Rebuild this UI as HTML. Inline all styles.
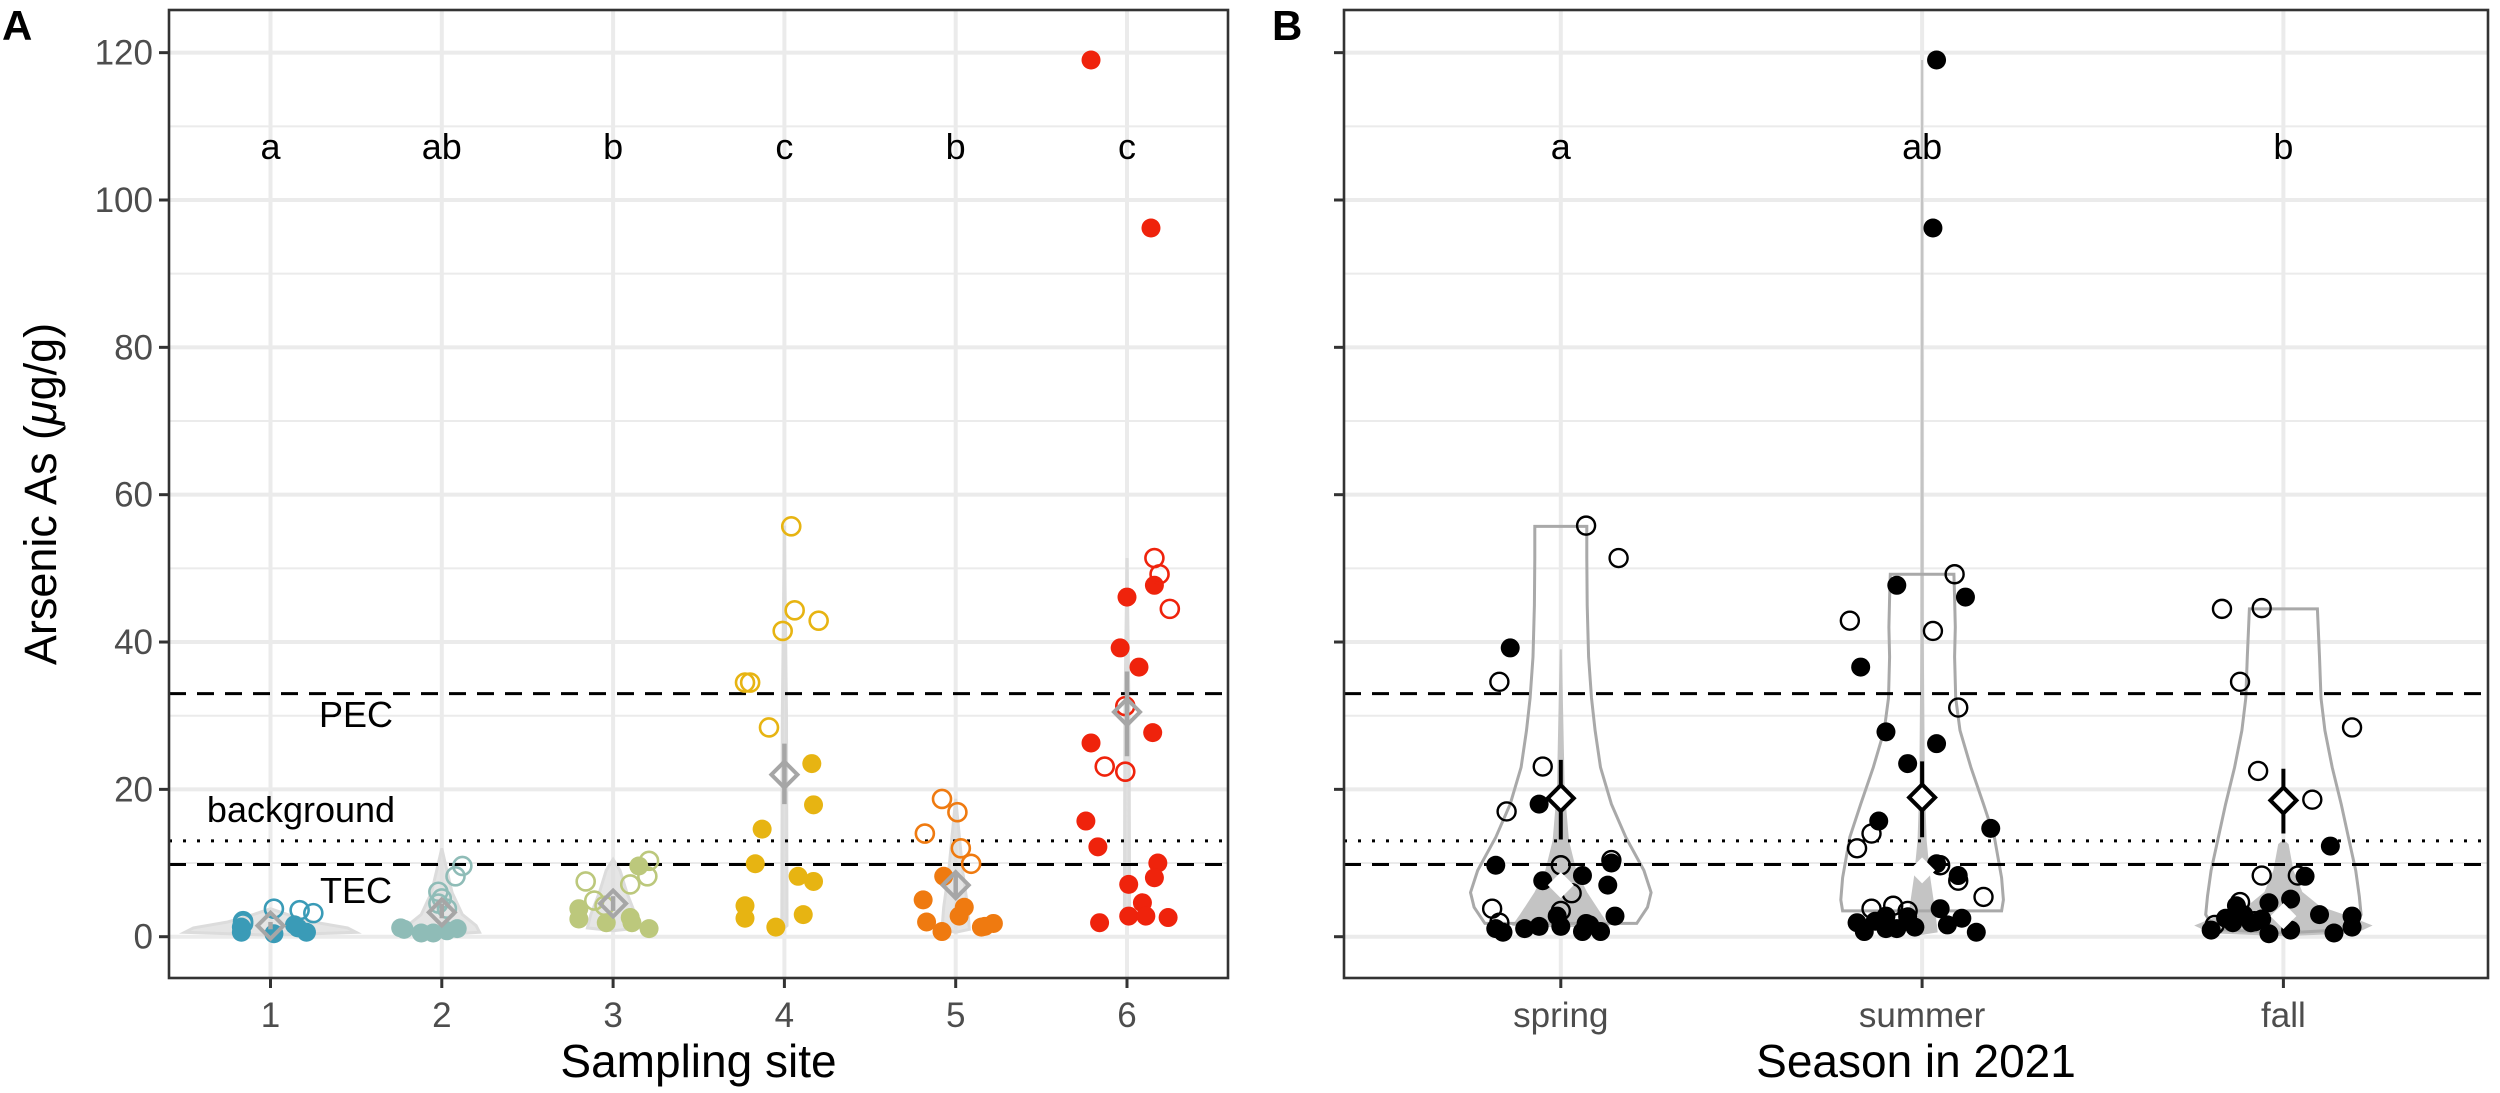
<!DOCTYPE html>
<html><head><meta charset="utf-8"><style>
html,body{margin:0;padding:0;background:#fff;}
svg{display:block;font-family:"Liberation Sans",Arial,sans-serif;}
</style></head><body>
<svg id="chart" width="2500" height="1093" viewBox="0 0 2500 1093" xmlns="http://www.w3.org/2000/svg"></svg>
<script>
// ---------- data ----------
const yTicks = [0,20,40,60,80,100,120];
const sites = ["1","2","3","4","5","6"];
const siteColors = ["#3a9bb7","#8fbcb7","#bcc87c","#e7b412","#ef7a10","#ef230c"];
const siteLetters = ["a","ab","b","c","b","c"];
const siteMeans = [1.5,3.3,4.5,22.0,7.0,30.5];
const siteErrLo = [1.0,2.5,3.5,18.0,5.5,24.5];
const siteErrHi = [2.0,4.5,5.5,26.2,8.5,36.0];
// per site: [jitter, value, filled(1)/open(0)]
const sitePts = [
 [[-0.17,0.6,1],[-0.17,1.3,1],[0.02,0.4,1],[0.14,1.6,1],[0.21,0.6,1],[0.16,1.2,1],[-0.16,2.1,0],[0.02,3.8,0],[0.17,3.6,0],[0.25,3.2,0],[-0.16,1.8,0]],
 [[-0.22,1.0,1],[-0.12,0.5,1],[-0.05,0.5,1],[0.03,0.8,1],[0.09,1.1,1],[-0.24,1.2,1],[-0.02,6.1,0],[0.0,5.2,0],[0.08,8.2,0],[0.12,9.6,0],[0.03,3.8,0],[-0.02,4.5,0]],
 [[-0.2,3.8,1],[-0.2,2.4,1],[-0.04,1.9,1],[0.1,2.6,1],[0.15,9.6,1],[0.21,1.1,1],[0.11,1.9,1],[-0.16,7.5,0],[-0.11,4.9,0],[-0.05,4.2,0],[0.1,7.1,0],[0.2,8.2,0],[0.21,10.3,0]],
 [[-0.23,4.2,1],[-0.23,2.5,1],[-0.17,9.9,1],[-0.13,14.6,1],[-0.05,1.3,1],[0.08,8.2,1],[0.11,3.0,1],[0.16,23.5,1],[0.17,17.9,1],[0.17,7.5,1],[0.04,55.7,0],[0.06,44.3,0],[-0.01,41.5,0],[0.2,42.9,0],[-0.23,34.5,0],[-0.2,34.5,0],[-0.09,28.4,0]],
 [[-0.19,5.0,1],[-0.17,2.0,1],[-0.08,0.7,1],[-0.07,8.2,1],[0.02,2.8,1],[0.05,4.0,1],[0.15,1.3,1],[0.22,1.8,1],[0.17,1.4,1],[-0.18,14.0,0],[-0.08,18.7,0],[0.01,16.9,0],[0.03,12.0,0],[0.09,9.9,0]],
 [[-0.21,119,1],[0.14,96.2,1],[0.0,46.1,1],[0.16,47.7,1],[-0.04,39.2,1],[0.07,36.6,1],[-0.21,26.3,1],[0.15,27.7,1],[-0.24,15.7,1],[-0.17,12.2,1],[0.18,10.0,1],[0.16,8.0,1],[0.01,7.1,1],[0.09,4.6,1],[-0.16,1.9,1],[0.01,2.8,1],[0.11,2.8,1],[0.24,2.6,1],[0.16,51.4,0],[0.19,49.2,0],[0.25,44.5,0],[-0.01,31.3,0],[-0.13,23.1,0],[-0.01,22.4,0]]
];
// site violins: [value, half-width in site units]
const siteViolins = [
 [[0.2,0.0],[0.6,0.5],[1.2,0.45],[2,0.25],[3,0.1],[3.8,0.0]],
 [[0.3,0.0],[0.6,0.22],[1.5,0.2],[3,0.12],[6,0.06],[9,0.03],[12,0.0]],
 [[0.8,0.0],[1.2,0.15],[3,0.13],[6,0.08],[9,0.04],[10.5,0.0]],
 [[1.2,0.0],[1.5,0.015],[30,0.012],[55.8,0.0]],
 [[0.6,0.0],[1.0,0.08],[4,0.07],[9,0.04],[14,0.02],[18.7,0.0]],
 [[1.8,0.0],[2.2,0.015],[30,0.012],[51.4,0.0]]
];
const seasons = ["spring","summer","fall"];
const seasonLetters = ["a","ab","b"];
const seasonMeans = [18.8,18.9,18.5];
const seasonErrLo = [13.2,13.5,14.0];
const seasonErrHi = [24.0,23.8,22.8];
const seasonMedians = [7.0,9.0,2.8];
const seasonPts = [
 [[-0.14,39.2,1],[-0.06,18.0,1],[-0.18,9.7,1],[0.06,8.3,1],[0.13,7.0,1],[0.14,10.0,1],[0.15,2.8,1],[-0.05,7.6,1],[-0.01,2.8,1],[0.0,1.4,1],[-0.18,1.1,1],[-0.16,0.6,1],[-0.1,1.1,1],[-0.06,1.4,1],[0.07,1.8,1],[0.06,0.7,1],[0.11,0.7,1],[0.08,1.6,1],
  [0.07,55.8,0],[0.16,51.4,0],[-0.17,34.6,0],[-0.05,23.1,0],[-0.15,17.0,0],[0.0,9.7,0],[0.03,5.9,0],[0.0,3.5,0],[-0.19,3.8,0],[-0.17,1.9,0],[0.14,10.4,0]],
 [[0.04,119,1],[0.03,96.2,1],[-0.07,47.7,1],[0.12,46.1,1],[-0.17,36.6,1],[-0.1,27.8,1],[0.04,26.2,1],[-0.04,23.5,1],[-0.12,15.7,1],[0.19,14.7,1],[0.04,9.9,1],[0.1,8.3,1],[0.05,3.8,1],[0.11,2.5,1],[0.07,1.6,1],[0.15,0.6,1],[-0.18,1.9,1],[-0.16,0.7,1],[-0.13,2.1,1],[-0.1,1.1,1],[-0.07,1.1,1],[-0.04,2.7,1],[-0.02,1.3,1],[-0.1,2.8,1],
  [0.09,49.2,0],[-0.2,42.9,0],[0.03,41.5,0],[0.1,31.1,0],[-0.14,14.0,0],[-0.18,12.0,0],[0.05,9.7,0],[0.1,7.6,0],[0.17,5.4,0],[-0.14,3.8,0],[-0.08,4.2,0],[-0.04,3.5,0]],
 [[0.13,12.3,1],[0.06,8.2,1],[-0.13,4.2,1],[-0.04,4.6,1],[0.02,5.1,1],[0.1,3.0,1],[0.19,2.8,1],[-0.2,0.9,1],[-0.16,2.5,1],[-0.14,1.9,1],[-0.11,3.0,1],[-0.06,2.4,1],[-0.04,0.4,1],[0.02,0.9,1],[0.14,0.5,1],[0.19,1.3,1],[-0.09,1.9,1],
  [-0.17,44.5,0],[-0.06,44.6,0],[-0.12,34.6,0],[0.19,28.4,0],[-0.07,22.5,0],[0.08,18.6,0],[-0.06,8.3,0],[0.04,8.3,0],[-0.12,4.7,0],[-0.08,2.1,0],[-0.19,1.6,0]]
];
// season outline violins [value, half-width in category units]
const seasonOutline = [
 [[1.8,0.21],[4,0.24],[6,0.25],[9,0.23],[13.5,0.18],[18,0.14],[23,0.11],[28,0.095],[32.4,0.085],[38,0.077],[45,0.073],[51.4,0.072],[55.7,0.072]],
 [[3.5,0.22],[5,0.225],[8,0.22],[13.5,0.2],[18,0.17],[23,0.135],[28,0.105],[32.4,0.093],[38,0.09],[42,0.092],[46,0.09],[49.2,0.088]],
 [[0.5,0.0],[1.0,0.19],[3,0.215],[5.5,0.21],[9,0.2],[13.5,0.18],[18,0.16],[23,0.135],[28,0.115],[32.4,0.104],[38,0.1],[44.5,0.094]]
];
const seasonFill = [
 [[1.4,0.0],[1.6,0.13],[3,0.11],[6,0.07],[9,0.04],[13,0.02],[20,0.008],[30,0.004],[39,0.0]],
 [[0.4,0.0],[0.7,0.04],[3,0.035],[8,0.02],[13,0.01],[20,0.005],[40,0.002],[119,0.0]],
 [[0.2,0.0],[0.6,0.2],[1.5,0.24],[2.5,0.19],[4,0.1],[6,0.05],[9,0.025],[12.5,0.012],[13,0.0]]
];
const refPEC = 33, refBG = 13, refTEC = 9.8;

// ---------- layout ----------
const NS = "http://www.w3.org/2000/svg";
const svg = document.getElementById("chart");
const Y0 = 936.7, YU = 7.367;
const yS = v => Y0 - v*YU;
const A = {l:169, r:1228, t:10, b:978, c0:270.5, step:171.3};
const B = {l:1344, r:2488, t:10, b:978, c0:1560.8, step:361.3};
const xA = (i,j) => A.c0 + (i + j)*A.step;
const xB = (i,j) => B.c0 + (i + j)*B.step;

function mk(tag, attrs, parent, name, inter){
  const e = document.createElementNS(NS, tag);
  for (const k in attrs) e.setAttribute(k, attrs[k]);
  if (name) {
    
    
  }
  (parent||svg).appendChild(e);
  return e;
}
function txt(s, attrs, parent, name){
  const e = mk('text', attrs, parent, null);
  
  
  e.textContent = s;
  return e;
}
function violinPath(prof, cx, step){
  let left=[], right=[];
  prof.forEach(([v,w])=>{ right.push([cx + w*step, yS(v)]); left.push([cx - w*step, yS(v)]); });
  const pts = right.concat(left.reverse());
  return 'M' + pts.map(p=>p[0].toFixed(1)+','+p[1].toFixed(1)).join('L') + 'Z';
}
function diamond(cx, cy, r, attrs, parent){
  return mk('path', Object.assign({d:`M${cx},${cy-r}L${cx+r},${cy}L${cx},${cy+r}L${cx-r},${cy}Z`}, attrs), parent);
}

function panel(P, cats, xF, name){
  const g = mk('g', {}, svg, name, false);
  const grid = mk('g', {}, g, 'grid', false);
  for (let v=10; v<=130; v+=20) { if (yS(v) > P.t) { const l = mk('line',{x1:P.l,x2:P.r,y1:yS(v),y2:yS(v),stroke:'#ebebeb','stroke-width':2},grid);   } }
  yTicks.forEach(v=>{ const l = mk('line',{x1:P.l,x2:P.r,y1:yS(v),y2:yS(v),stroke:'#ebebeb','stroke-width':4},grid);   });
  cats.forEach((c,i)=>{ const l = mk('line',{x1:xF(i,0),x2:xF(i,0),y1:P.t,y2:P.b,stroke:'#ebebeb','stroke-width':4},grid);   });
  return g;
}

// ---------- Panel A ----------
const gA = panel(A, sites, xA, 'panel-a');
sites.forEach((s,i)=>{
  const v = mk('path',{d:violinPath(siteViolins[i], xA(i,0), A.step), fill:'#dcdcdc', 'fill-opacity':0.75, stroke:'#dcdcdc','stroke-width':3}, gA);
   
});
function refLines(g, P){
  const pec = mk('line',{x1:P.l,x2:P.r,y1:yS(refPEC),y2:yS(refPEC),stroke:'#000','stroke-width':3,'stroke-dasharray':'17,11'},g);
   
  const bg = mk('line',{x1:P.l,x2:P.r,y1:yS(refBG),y2:yS(refBG),stroke:'#000','stroke-width':3,'stroke-dasharray':'3,11'},g);
   
  const tec = mk('line',{x1:P.l,x2:P.r,y1:yS(refTEC),y2:yS(refTEC),stroke:'#000','stroke-width':3,'stroke-dasharray':'17,11'},g);
   
}
refLines(gA, A);
sites.forEach((s,i)=>{
  const col = siteColors[i];
  const pg = mk('g',{},gA,'points-site-'+s,false);
  sitePts[i].forEach(([j,v,f])=>{
    const c = mk('circle',{cx:xA(i,j),cy:yS(v),r:f?9.5:9.0,fill:f?col:'none',stroke:col,'stroke-width':f?0:2.6},pg);
     
  });
  const eb = mk('line',{x1:xA(i,0),x2:xA(i,0),y1:yS(siteErrLo[i]),y2:yS(siteErrHi[i]),stroke:'#a6a6a6','stroke-width':4.5},gA);
   
  const d = diamond(xA(i,0), yS(siteMeans[i]), 13, {fill:'none',stroke:'#a6a6a6','stroke-width':4}, gA);
   
  txt(siteLetters[i], {x:xA(i,0), y:159, 'font-size':36, 'text-anchor':'middle', fill:'#000'}, gA, 'group-letter-site-'+s);
});
txt('PEC',{x:356,y:727,'font-size':36,'text-anchor':'middle'},gA,'pec-label');
txt('background',{x:301,y:822,'font-size':36,'text-anchor':'middle'},gA,'background-label');
txt('TEC',{x:356,y:903,'font-size':36,'text-anchor':'middle'},gA,'tec-label');

// ---------- Panel B ----------
const gB = panel(B, seasons, xB, 'panel-b');
seasons.forEach((s,i)=>{
  const f = mk('path',{d:violinPath(seasonFill[i], xB(i,0), B.step), fill:'#c4c4c4', stroke:'#c4c4c4','stroke-width':2}, gB);
   
  const o = mk('path',{d:violinPath(seasonOutline[i], xB(i,0), B.step), fill:'none', stroke:'#a9a9a9','stroke-width':3}, gB);
   
});
refLines(gB, B);
seasons.forEach((s,i)=>{
  const pg = mk('g',{},gB,'points-'+s,false);
  seasonPts[i].forEach(([j,v,f])=>{
    const c = mk('circle',{cx:xB(i,j),cy:yS(v),r:f?9.5:9.0,fill:f?'#000':'none',stroke:'#000','stroke-width':f?0:2.4},pg);
     
  });
  const md = diamond(xB(i,0), yS(seasonMedians[i]), 13, {fill:'#fff',stroke:'none'}, gB);
   
  const eb = mk('line',{x1:xB(i,0),x2:xB(i,0),y1:yS(seasonErrLo[i]),y2:yS(seasonErrHi[i]),stroke:'#000','stroke-width':4},gB);
   
  const d = diamond(xB(i,0), yS(seasonMeans[i]), 13, {fill:'#fff',stroke:'#000','stroke-width':4}, gB);
   
  txt(seasonLetters[i], {x:xB(i,0), y:159, 'font-size':36, 'text-anchor':'middle', fill:'#000'}, gB, 'group-letter-'+s);
});

// ---------- axes ----------
function axes(P, cats, xF, labels, title, titleX, g){
  const br = mk('rect',{x:P.l,y:P.t,width:P.r-P.l,height:P.b-P.t,fill:'none',stroke:'#333','stroke-width':2.6},g);
   
  yTicks.forEach(v=>{
    const t = mk('line',{x1:P.l-10,x2:P.l,y1:yS(v),y2:yS(v),stroke:'#333','stroke-width':3},g);
     
    if (labels) txt(String(v),{x:P.l-16,y:yS(v)+12,'font-size':35,'text-anchor':'end',fill:'#4d4d4d'},g,'y-tick-label');
  });
  cats.forEach((c,i)=>{
    const t = mk('line',{x1:xF(i,0),x2:xF(i,0),y1:P.b,y2:P.b+10,stroke:'#333','stroke-width':3},g);
     
    txt(c,{x:xF(i,0),y:1027,'font-size':35,'text-anchor':'middle',fill:'#4d4d4d'},g,'x-tick-label');
  });
  txt(title,{x:titleX,y:1077,'font-size':46,'text-anchor':'middle',fill:'#000'},g,'x-axis-title');
}
axes(A, sites, xA, true, 'Sampling site', (A.l+A.r)/2, gA);
axes(B, seasons, xB, false, 'Season in 2021', (B.l+B.r)/2, gB);
const yt = mk('text',{x:0,y:0,'font-size':45,'text-anchor':'middle',transform:'translate(56,494) rotate(-90)'},svg,'y-axis-title',false);
const t1 = mk('tspan',{},yt); t1.textContent = 'Arsenic As (';
const t2 = mk('tspan',{'font-style':'italic'},yt); t2.textContent = '\u03BC';
const t3 = mk('tspan',{},yt); t3.textContent = 'g/g)';
txt('A',{x:2,y:40,'font-size':42,'font-weight':'bold'},svg,'panel-a-label');
txt('B',{x:1272,y:40,'font-size':42,'font-weight':'bold'},svg,'panel-b-label');
</script>
</body></html>
